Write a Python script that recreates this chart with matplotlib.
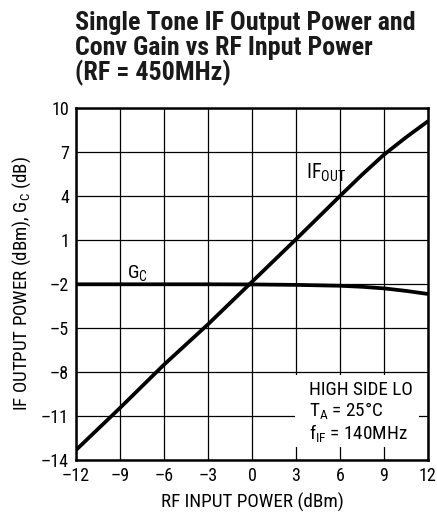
import matplotlib
matplotlib.use("Agg")
import matplotlib.pyplot as plt
from matplotlib import font_manager
from matplotlib.patches import Rectangle

names = {f.name for f in font_manager.fontManager.ttflist}
prefs = ['Roboto Condensed', 'Archivo Narrow', 'Arial Narrow', 'Liberation Sans Narrow',
         'PT Sans Narrow', 'Pragati Narrow', 'Fira Sans Condensed', 'IBM Plex Sans Condensed',
         'Encode Sans Condensed', 'Barlow Semi Condensed', 'Liberation Sans']
fam = next(p for p in prefs if p in names)
plt.rcParams['font.family'] = [fam, 'DejaVu Sans']
plt.rcParams['mathtext.default'] = 'regular'

rf_in = [-12, -9, -6, -3, 0, 3, 6, 7.5, 9, 10.5, 12]
if_out = [-13.32, -10.45, -7.5, -4.75, -1.85, 1.05, 4.0, 5.45, 6.82, 8.0, 9.1]
gc_x = [-12, -9, -6, -3, 0, 3, 6, 7.5, 9, 10.5, 12]
gc = [-2.02, -2.02, -2.02, -2.02, -2.03, -2.06, -2.12, -2.19, -2.3, -2.47, -2.68]
xticks = [-12, -9, -6, -3, 0, 3, 6, 9, 12]
yticks = [-14, -11, -8, -5, -2, 1, 4, 7, 10]

fig = plt.figure(figsize=(4.37, 5.18), dpi=100)
ax = fig.add_axes([76/437, 1-460/518, 352/437, 352/518])
ax.plot(rf_in, if_out, color='black', lw=2.7, solid_capstyle='butt', zorder=4)
ax.plot(gc_x, gc, color='black', lw=2.7, solid_capstyle='butt', zorder=4)
ax.set_xlim(-12, 12)
ax.set_ylim(-14, 10)
ax.set_xticks(xticks)
ax.set_yticks(yticks)
ax.set_xticklabels([str(v).replace('-', '\u2013') for v in xticks])
ax.set_yticklabels([str(v).replace('-', '\u2013') for v in yticks])
ax.grid(True, color='black', lw=0.9)
ax.tick_params(length=0, labelsize=13, pad=5)
for s in ax.spines.values():
    s.set_linewidth(1.8)
ax.set_xlabel('RF INPUT POWER (dBm)', fontsize=13.8, labelpad=6)
ax.set_ylabel('IF OUTPUT POWER (dBm), G$_C$ (dB)', fontsize=13.6, labelpad=6)

ax.text(-8.5, -1.6, 'G$_C$', fontsize=14, ha='left', va='baseline')
ax.text(3.7, 5.2, 'IF$_{OUT}$', fontsize=14.5, ha='left', va='baseline')
ax.add_patch(Rectangle((2.93, -13.1), 8.46, 4.9, facecolor='white', edgecolor='none', zorder=3))
ax.text(3.9, -8.6, 'HIGH SIDE LO\nT$_A$ = 25°C\nf$_{IF}$ = 140MHz', fontsize=13.8,
        ha='left', va='top', linespacing=1.08, zorder=5)

fig.text(75/437, 1-11/518, 'Single Tone IF Output Power and\nConv Gain vs RF Input Power\n(RF = 450MHz)',
         fontsize=18.7, fontweight='bold', ha='left', va='top', linespacing=1.03, color='#1a1a1a')

fig.savefig('out.png', dpi=100)
